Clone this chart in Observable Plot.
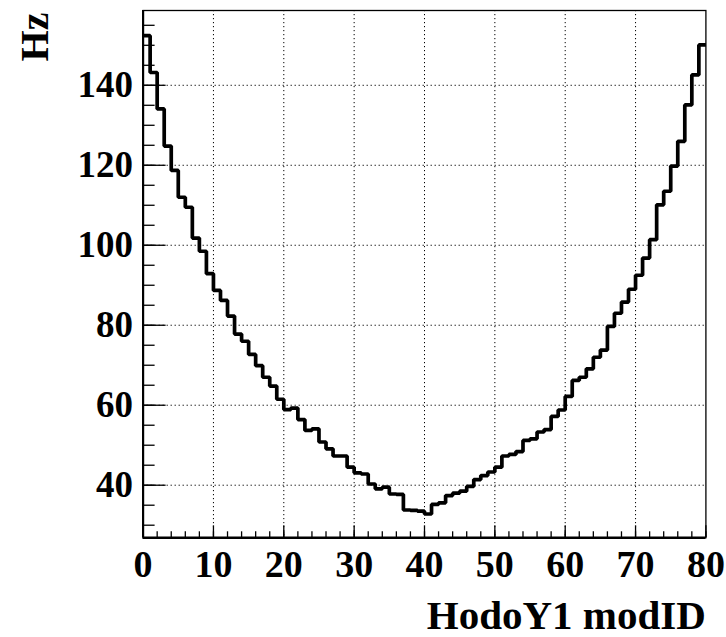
<!DOCTYPE html>
<html>
<head>
<meta charset="utf-8">
<script src="https://cdn.jsdelivr.net/npm/d3@7"></script>
<script src="https://cdn.jsdelivr.net/npm/@observablehq/plot@0.6"></script>
<style>
  html, body { margin: 0; padding: 0; background: #fff; }
</style>
</head>
<body>
<div id="chart"></div>
<script>
// ---- data ----
const modID = d3.range(0, 80); // bin low edges 0..79 (bin width 1)
const rateHz = [
  152.4, 143.2, 134.1, 124.8, 118.7, 112.0, 109.5, 101.8, 98.5, 92.9,
  88.7, 86.2, 82.3, 77.8, 76.0, 72.7, 69.9, 67.0, 64.8, 61.5,
  58.9, 59.3, 56.4, 53.7, 54.1, 50.8, 49.1, 47.3, 47.3, 44.5,
  43.1, 42.8, 40.3, 39.1, 39.5, 37.8, 37.7, 33.8, 33.7, 33.5,
  32.8, 35.2, 35.6, 37.4, 38.0, 38.5, 39.7, 41.4, 42.4, 43.3,
  44.5, 47.3, 47.7, 48.4, 51.2, 51.6, 53.3, 53.9, 57.2, 58.8,
  62.2, 66.2, 67.0, 69.1, 72.0, 73.8, 79.7, 83.0, 85.8, 89.0,
  92.5, 96.8, 101.4, 110.1, 113.5, 119.8, 126.0, 135.1, 142.6, 150.1
];
const xTicks = [0, 10, 20, 30, 40, 50, 60, 70, 80];
const xMinorTicks = d3.range(0, 81, 2);
const yTicks = [40, 60, 80, 100, 120, 140];
const yMinorTicks = d3.range(30, 160, 5);
const xGrid = [10, 20, 30, 40, 50, 60, 70];
const yGrid = [40, 60, 80, 100, 120, 140];
const xTitle = "HodoY1 modID";
const yTitle = "Hz";
const xDomain = [0, 80];
const yDomain = [26.85, 158.7];

// ---- layout ----
const W = 726, H = 637;
const mL = 142.6, mR = 20.6, mT = 10, mB = 99.7;
const fw = W - mL - mR, fh = H - mT - mB;

const pts = modID.map((x, i) => ({x, y: rateHz[i]}));
pts.push({x: xDomain[1], y: rateHz[rateHz.length - 1]});

const font = "'Liberation Serif', 'Times New Roman', Times, serif";

const chart = Plot.plot({
  width: W, height: H,
  marginLeft: mL, marginRight: mR, marginTop: mT, marginBottom: mB,
  x: {domain: xDomain, axis: null},
  y: {domain: yDomain, axis: null},
  style: {fontFamily: font, fontWeight: "bold", color: "#000", background: "#fff", overflow: "visible"},
  marks: [
    Plot.ruleX(xGrid, {x: d => d, stroke: "#000", strokeWidth: 1, strokeDasharray: "1.2,2.8"}),
    Plot.ruleY(yGrid, {y: d => d, stroke: "#000", strokeWidth: 1, strokeDasharray: "1.2,2.8"}),
    Plot.line(pts, {x: "x", y: "y", curve: "step-after", stroke: "#000", strokeWidth: 3.7, strokeLinejoin: "miter", strokeLinecap: "butt"}),
    // frame
    Plot.frame({stroke: "#000", strokeWidth: 1.3}),
    Plot.ruleX([xDomain[0]], {x: d => d, stroke: "#000", strokeWidth: 2.2}),
    Plot.ruleY([yDomain[0]], {y: d => d, stroke: "#000", strokeWidth: 2.4}),
    // ticks
    Plot.tickY(yTicks, {y: d => d, stroke: "#000", strokeWidth: 1.3, insetRight: fw - 23}),
    Plot.tickY(yMinorTicks, {y: d => d, stroke: "#000", strokeWidth: 1.3, insetRight: fw - 12}),
    Plot.tickX(xTicks, {x: d => d, stroke: "#000", strokeWidth: 1.3, insetTop: fh - 12}),
    Plot.tickX(xMinorTicks, {x: d => d, stroke: "#000", strokeWidth: 1.3, insetTop: fh - 6}),
    // tick labels
    Plot.text(xTicks, {x: d => d, text: d => String(d), frameAnchor: "bottom", dy: 12.4, lineAnchor: "top", fontSize: 38, fill: "#000"}),
    Plot.text(yTicks, {y: d => d, text: d => String(d), frameAnchor: "left", dx: -10, textAnchor: "end", lineAnchor: "middle", fontSize: 37, fill: "#000"}),
    // axis titles
    Plot.text([xTitle], {text: d => d, frameAnchor: "bottom-right", dy: 61.6, textAnchor: "end", lineAnchor: "top", fontSize: 41, fill: "#000"}),
    Plot.text([yTitle], {text: d => d, frameAnchor: "top-left", dx: -124, dy: 2, rotate: -90, textAnchor: "end", lineAnchor: "top", fontSize: 40, fill: "#000"})
  ]
});
document.getElementById("chart").appendChild(chart);
</script>
</body>
</html>
